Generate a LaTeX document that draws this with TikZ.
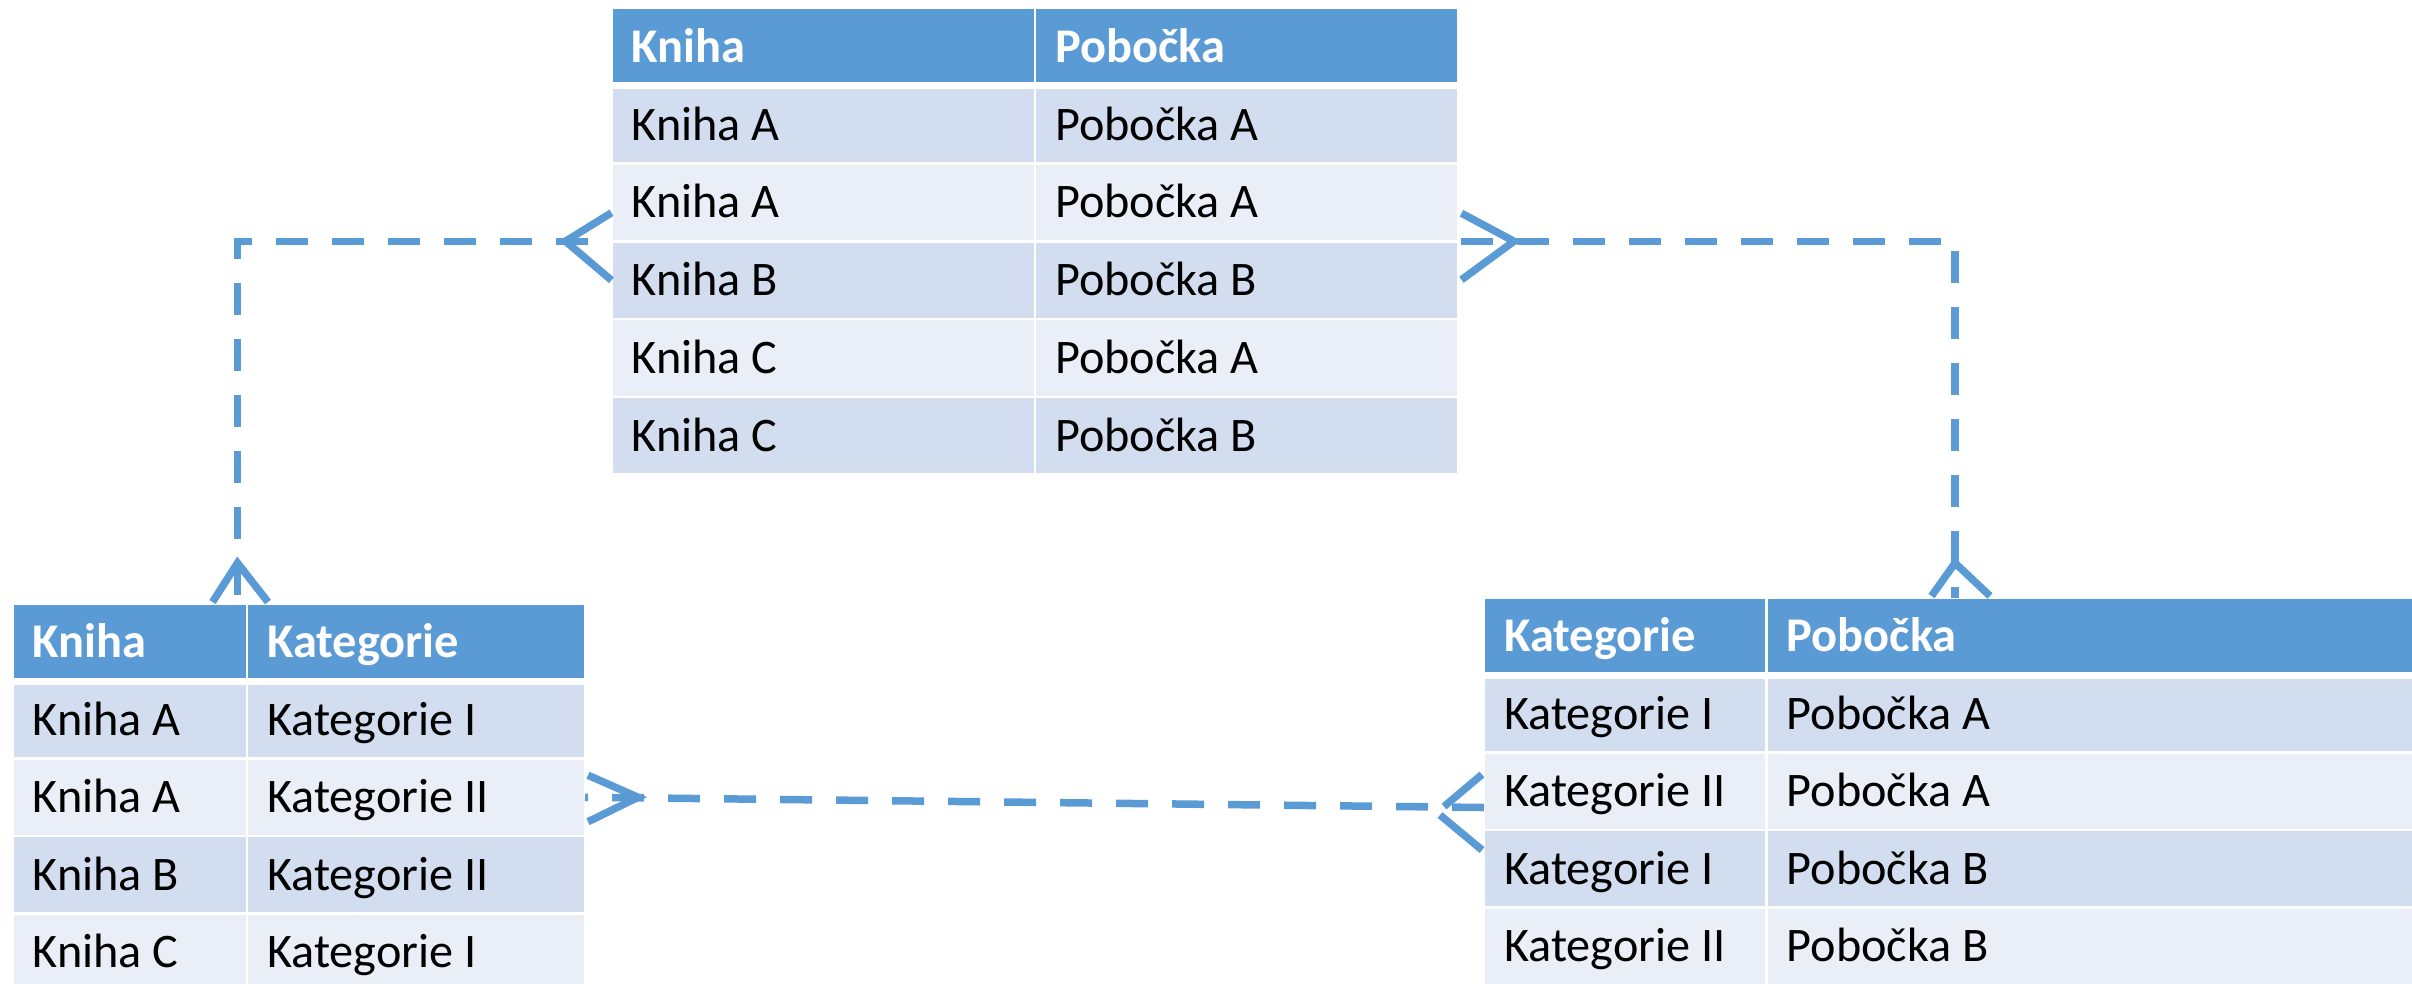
\documentclass[tikz,border=0pt]{standalone}
\usepackage{fontspec}
\setmainfont{Carlito}
\usetikzlibrary{calc}

\definecolor{hdrblue}{HTML}{5B9BD5}
\definecolor{rowdark}{HTML}{D2DEEF}
\definecolor{rowlight}{HTML}{EAEFF7}
\definecolor{linkblue}{HTML}{5B9BD5}

\tikzset{
  cellbox/.style={rectangle, draw=white, line width=2.5pt, inner sep=0pt, outer sep=0pt},
  hdrtext/.style={font=\fontsize{48.4}{58}\selectfont\bfseries, text=white, inner sep=0pt},
  celltext/.style={font=\fontsize{48.2}{58}\selectfont, text=black, inner sep=0pt},
  conn/.style={draw=linkblue, line width=7.5pt, dash pattern=on 32pt off 24pt},
  foot/.style={draw=linkblue, line width=7.5pt},
  hdrsep/.style={draw=white, line width=7pt},
}

% one table cell: name, x, y (top left), width, height, fill, text style, text
\newcommand{\mkcell}[8]{%
  \node[cellbox, fill=#6, minimum width=#4pt, minimum height=#5pt, anchor=north west] (#1) at (#2,#3) {};
  \node[#7, anchor=base west] (#1-t) at ($(#1.west)+(20,15.5)$) {#8};}

\begin{document}
\begin{tikzpicture}[x=1pt, y=-1pt]
\useasboundingbox (0,0) rectangle (2412,983);
\clip (0,0) rectangle (2412,983);

% ---- Kniha / Pobočka ----
\mkcell{t1-h1}{611.5}{8}{423.5}{77.75}{hdrblue}{hdrtext}{Kniha}
\mkcell{t1-h2}{1035}{8}{423}{77.75}{hdrblue}{hdrtext}{Pobočka}
\mkcell{t1-r1-1}{611.5}{85.75}{423.5}{77.75}{rowdark}{celltext}{Kniha A}
\mkcell{t1-r1-2}{1035}{85.75}{423}{77.75}{rowdark}{celltext}{Pobočka A}
\mkcell{t1-r2-1}{611.5}{163.5}{423.5}{77.75}{rowlight}{celltext}{Kniha A}
\mkcell{t1-r2-2}{1035}{163.5}{423}{77.75}{rowlight}{celltext}{Pobočka A}
\mkcell{t1-r3-1}{611.5}{241.25}{423.5}{77.75}{rowdark}{celltext}{Kniha B}
\mkcell{t1-r3-2}{1035}{241.25}{423}{77.75}{rowdark}{celltext}{Pobočka B}
\mkcell{t1-r4-1}{611.5}{319}{423.5}{77.75}{rowlight}{celltext}{Kniha C}
\mkcell{t1-r4-2}{1035}{319}{423}{77.75}{rowlight}{celltext}{Pobočka A}
\mkcell{t1-r5-1}{611.5}{396.75}{423.5}{77.75}{rowdark}{celltext}{Kniha C}
\mkcell{t1-r5-2}{1035}{396.75}{423}{77.75}{rowdark}{celltext}{Pobočka B}
\draw[hdrsep] (t1-h1.south west) -- (t1-h2.south east);

% ---- Kniha / Kategorie ----
\mkcell{t2-h1}{12.5}{603.5}{234.5}{77.5}{hdrblue}{hdrtext}{Kniha}
\mkcell{t2-h2}{247}{603.5}{338}{77.5}{hdrblue}{hdrtext}{Kategorie}
\mkcell{t2-r1-1}{12.5}{681}{234.5}{77.5}{rowdark}{celltext}{Kniha A}
\mkcell{t2-r1-2}{247}{681}{338}{77.5}{rowdark}{celltext}{Kategorie I}
\mkcell{t2-r2-1}{12.5}{758.5}{234.5}{77.5}{rowlight}{celltext}{Kniha A}
\mkcell{t2-r2-2}{247}{758.5}{338}{77.5}{rowlight}{celltext}{Kategorie II}
\mkcell{t2-r3-1}{12.5}{836}{234.5}{77.5}{rowdark}{celltext}{Kniha B}
\mkcell{t2-r3-2}{247}{836}{338}{77.5}{rowdark}{celltext}{Kategorie II}
\mkcell{t2-r4-1}{12.5}{913.5}{234.5}{77.5}{rowlight}{celltext}{Kniha C}
\mkcell{t2-r4-2}{247}{913.5}{338}{77.5}{rowlight}{celltext}{Kategorie I}
\draw[hdrsep] (t2-h1.south west) -- (t2-h2.south east);

% ---- Kategorie / Pobočka ----
\mkcell{t3-h1}{1484}{597.5}{282.6}{77.5}{hdrblue}{hdrtext}{Kategorie}
\mkcell{t3-h2}{1766.6}{597.5}{700}{77.5}{hdrblue}{hdrtext}{Pobočka}
\mkcell{t3-r1-1}{1484}{675}{282.6}{77.5}{rowdark}{celltext}{Kategorie I}
\mkcell{t3-r1-2}{1766.6}{675}{700}{77.5}{rowdark}{celltext}{Pobočka A}
\mkcell{t3-r2-1}{1484}{752.5}{282.6}{77.5}{rowlight}{celltext}{Kategorie II}
\mkcell{t3-r2-2}{1766.6}{752.5}{700}{77.5}{rowlight}{celltext}{Pobočka A}
\mkcell{t3-r3-1}{1484}{830}{282.6}{77.5}{rowdark}{celltext}{Kategorie I}
\mkcell{t3-r3-2}{1766.6}{830}{700}{77.5}{rowdark}{celltext}{Pobočka B}
\mkcell{t3-r4-1}{1484}{907.5}{282.6}{77.5}{rowlight}{celltext}{Kategorie II}
\mkcell{t3-r4-2}{1766.6}{907.5}{700}{77.5}{rowlight}{celltext}{Pobočka B}
\draw[hdrsep] (t3-h1.south west) -- (t3-h2.south east);

% ---- connector end points ----
\coordinate (A1) at (t1-r2-1.south west);
\coordinate (B1) at ($(t2-h1.north west)+(225,0)$);
\coordinate (A2) at (t1-r2-2.south east);
\coordinate (B2) at ($(t3-h2.north west)+(188.4,0)$);
\coordinate (A3) at ($(t3-r2-1.south west)+(0,-22.5)$);
\coordinate (B3) at (t2-r2-2.east);

% ---- dashed relationship lines ----
\draw[conn, dash phase=32pt] (A1) -| (B1);
\draw[conn, dash phase=53pt] (A2) -| (B2);
\draw[conn] (A3) -- (B3);

% ---- crow's feet ----
\draw[foot] ($(A1)+(0,-28.5)$) -- ($(A1)+(-46,0)$) -- ($(A1)+(0,39)$);
\draw[foot] ($(B1)+(-25,-1.5)$) -- ($(B1)+(0,-40.5)$) -- ($(B1)+(30.5,-1.5)$);
\draw[foot] ($(A2)+(3.5,-28)$) -- ($(A2)+(56,0)$) -- ($(A2)+(3.5,38.5)$);
\draw[foot] ($(B2)+(-23.5,-1.5)$) -- ($(B2)+(0,-34.5)$) -- ($(B2)+(35,-1.5)$);
\draw[foot] ($(B3)+(3,-22)$) -- ($(B3)+(53,0)$) -- ($(B3)+(3,24.5)$);
\draw[foot] ($(A3)+(-2,-33)$) -- ($(A3)+(-40,-1)$);
\draw[foot] ($(A3)+(-44,7.5)$) -- ($(A3)+(-2,42.5)$);
\end{tikzpicture}
\end{document}
